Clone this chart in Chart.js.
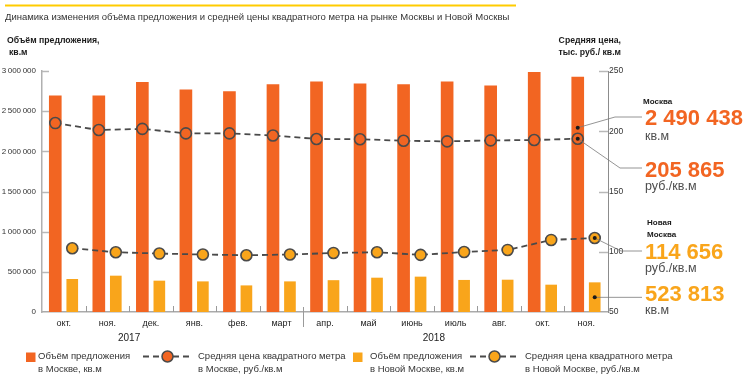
<!DOCTYPE html>
<html>
<head>
<meta charset="utf-8">
<script src="https://cdn.jsdelivr.net/npm/chart.js@4"></script>
<style>
  html, body { margin: 0; padding: 0; background: #fff; }
  canvas { display: block; }
</style>
</head>
<body>
<canvas id="chart" width="749" height="379"></canvas>
<script>
const months = ['окт.', 'ноя.', 'дек.', 'янв.', 'фев.', 'март', 'апр.', 'май', 'июнь', 'июль', 'авг.', 'окт.', 'ноя.'];
const years = ['2017', '2018'];
const yearCenters = [1.5, 8.5];   // category position under which the year sits
const yearBreak = 5.5;            // between март and апр.

const moscowVolume = [2690000, 2690000, 2860000, 2765000, 2745000, 2830000, 2865000, 2840000, 2830000, 2865000, 2815000, 2985000, 2925000];
const newMoscowVolume = [407000, 448000, 386000, 377000, 327000, 377000, 392000, 423000, 436000, 395000, 398000, 336000, 365000];
const moscowPrice = [206.8, 201, 202, 198.2, 198.2, 196.5, 193.6, 193.4, 192.1, 191.6, 192.4, 192.7, 193.8];
const newMoscowPrice = [102.9, 99.6, 98.5, 97.7, 97.1, 97.7, 99, 99.6, 97.4, 99.8, 101.5, 109.8, 111.4];

const volumeTicks = [0, 500000, 1000000, 1500000, 2000000, 2500000, 3000000];
const priceTicks = [50, 100, 150, 200, 250];

const callouts = {
  moscowVolume: '2 490 438',
  moscowPrice: '205 865',
  newMoscowPrice: '114 656',
  newMoscowVolume: '523 813'
};

const title = 'Динамика изменения объёма предложения и средней цены квадратного метра на рынке Москвы и Новой Москвы';

const ORANGE = '#f26522';
const YELLOW = '#f9a51b';
const DARK = '#4a4a4a';
const SANS = '"Liberation Sans", Arial, sans-serif';

// each month: Moscow bar/point left of centre, New Moscow right of it
const shift = 0.195;

const fmt = v => String(v).replace(/\B(?=(\d{3})+(?!\d))/g, '\u2009');

function seg(ctx, pts) {
  ctx.beginPath();
  ctx.moveTo(pts[0][0], pts[0][1]);
  for (let i = 1; i < pts.length; i++) ctx.lineTo(pts[i][0], pts[i][1]);
  ctx.stroke();
}
function dot(ctx, x, y) {
  ctx.beginPath();
  ctx.arc(x, y, 2, 0, Math.PI * 2);
  ctx.fillStyle = '#1a1a1a';
  ctx.fill();
}

const deco = {
  id: 'deco',
  afterDraw(chart) {
    const { ctx, chartArea: a, scales: { x, y, y1 } } = chart;
    ctx.save();

    // top rule + title
    ctx.strokeStyle = '#ffcc00';
    ctx.lineWidth = 2;
    seg(ctx, [[5, 5.5], [516, 5.5]]);
    ctx.textBaseline = 'middle';
    ctx.fillStyle = '#333';
    ctx.font = '9.5px ' + SANS;
    ctx.textAlign = 'left';
    ctx.fillText(title, 5, 17);

    // axis titles
    ctx.fillStyle = '#1a1a1a';
    ctx.font = 'bold 8.7px ' + SANS;
    ctx.fillText('Объём предложения,', 7, 41);
    ctx.fillText('кв.м', 9, 53);
    ctx.textAlign = 'right';
    ctx.fillText('Средняя цена,', 621, 41);
    ctx.fillText('тыс. руб./ кв.м', 621, 53);

    // inward tick marks
    ctx.strokeStyle = '#b8b8b8';
    ctx.lineWidth = 1.5;
    volumeTicks.forEach(v => {
      const py = Math.round(y.getPixelForValue(v)) + 0.5;
      if (v > 0) seg(ctx, [[a.left, py], [a.left + 7, py]]);
    });
    priceTicks.forEach(v => {
      const py = Math.round(y1.getPixelForValue(v)) + 0.5;
      if (v > 50) seg(ctx, [[a.right - 9, py], [a.right, py]]);
    });

    // month separators
    ctx.strokeStyle = '#9a9a9a';
    ctx.lineWidth = 1;
    for (let k = 1; k < months.length; k++) {
      const px = Math.round(x.getPixelForValue(k - 0.5)) + 0.5;
      if (k - 0.5 === yearBreak) seg(ctx, [[px, a.bottom - 5], [px, a.bottom + 15]]);
      else seg(ctx, [[px, a.bottom - 6], [px, a.bottom]]);
    }

    // years
    ctx.fillStyle = '#222';
    ctx.font = '10px ' + SANS;
    ctx.textAlign = 'center';
    years.forEach((t, i) => ctx.fillText(t, x.getPixelForValue(yearCenters[i]), 338));

    // callouts for the last month
    const last = months.length - 1;
    const mBar = chart.getDatasetMeta(0).data[last];
    const nBar = chart.getDatasetMeta(1).data[last];
    const mPt = chart.getDatasetMeta(2).data[last];
    const nPt = chart.getDatasetMeta(3).data[last];
    const tx = a.right + 37;
    const ex = a.right + 34;
    const vy = (nBar.y + nBar.base) / 2;
    ctx.strokeStyle = '#7a7a7a';
    ctx.lineWidth = 0.8;
    seg(ctx, [[mBar.x, mPt.y - 11], [a.right + 7, 117], [ex, 117]]);
    seg(ctx, [[mPt.x, mPt.y], [a.right + 12, 168], [ex, 168]]);
    seg(ctx, [[nPt.x, nPt.y], [a.right + 13, 251], [ex, 251]]);
    seg(ctx, [[nBar.x, vy], [ex, vy]]);
    dot(ctx, mBar.x, mPt.y - 11);
    dot(ctx, mPt.x, mPt.y);
    dot(ctx, nPt.x, nPt.y);
    dot(ctx, nBar.x, vy);

    ctx.textAlign = 'left';
    ctx.fillStyle = '#1a1a1a';
    ctx.font = 'bold 8px ' + SANS;
    ctx.fillText('Москва', a.right + 35, 101.5);
    ctx.fillText('Новая', a.right + 39, 223);
    ctx.fillText('Москва', a.right + 39, 235);

    ctx.font = 'bold 22px ' + SANS;
    ctx.fillStyle = ORANGE;
    ctx.fillText(callouts.moscowVolume, tx, 119);
    ctx.fillText(callouts.moscowPrice, tx, 171);
    ctx.fillStyle = YELLOW;
    ctx.fillText(callouts.newMoscowPrice, tx, 253);
    ctx.fillText(callouts.newMoscowVolume, tx, 295);

    ctx.font = '12.5px ' + SANS;
    ctx.fillStyle = '#4d4d4d';
    ctx.fillText('кв.м', tx, 137);
    ctx.fillText('руб./кв.м', tx, 187);
    ctx.fillText('руб./кв.м', tx, 269);
    ctx.fillText('кв.м', tx, 311);

    // legend
    const items = [
      { ds: 0, kind: 'bar', x: 26, tx: 38 },
      { ds: 2, kind: 'line', x: 143, x1: 192, tx: 198 },
      { ds: 1, kind: 'bar', x: 353, tx: 370 },
      { ds: 3, kind: 'line', x: 470, x1: 519, tx: 525 }
    ];
    items.forEach(it => {
      const d = chart.data.datasets[it.ds];
      if (it.kind === 'bar') {
        ctx.fillStyle = d.backgroundColor;
        ctx.fillRect(it.x, 352.5, 9.5, 9.5);
      } else {
        ctx.strokeStyle = DARK;
        ctx.lineWidth = 2;
        ctx.setLineDash([6, 4]);
        seg(ctx, [[it.x, 356.5], [it.x1, 356.5]]);
        ctx.setLineDash([]);
        ctx.beginPath();
        ctx.arc((it.x + it.x1) / 2, 356.5, 5.5, 0, Math.PI * 2);
        ctx.fillStyle = d.pointBackgroundColor;
        ctx.fill();
        ctx.lineWidth = 1.5;
        ctx.stroke();
      }
      ctx.fillStyle = '#333';
      ctx.font = '9.5px ' + SANS;
      ctx.textAlign = 'left';
      d.label.split('\n').forEach((t, i) => ctx.fillText(t, it.tx, 356 + i * 13));
    });

    ctx.restore();
  }
};

const lineStyle = {
  type: 'line',
  yAxisID: 'y1',
  borderColor: DARK,
  borderWidth: 1.8,
  borderDash: [6, 4],
  pointRadius: 5.5,
  pointBorderWidth: 1.6,
  pointBorderColor: DARK,
  fill: false,
  tension: 0,
  order: 1
};

new Chart(document.getElementById('chart'), {
  type: 'bar',
  data: {
    datasets: [
      {
        label: 'Объём предложения\nв Москве, кв.м',
        data: moscowVolume.map((v, i) => ({ x: i - shift, y: v })),
        backgroundColor: ORANGE,
        yAxisID: 'y',
        grouped: false,
        barThickness: 12,
        order: 2
      },
      {
        label: 'Объём предложения\nв Новой Москве, кв.м',
        data: newMoscowVolume.map((v, i) => ({ x: i + shift, y: v })),
        backgroundColor: YELLOW,
        yAxisID: 'y',
        grouped: false,
        barThickness: 11,
        order: 2
      },
      Object.assign({}, lineStyle, {
        label: 'Средняя цена квадратного метра\nв Москве, руб./кв.м',
        data: moscowPrice.map((v, i) => ({ x: i - shift, y: v })),
        pointBackgroundColor: ORANGE
      }),
      Object.assign({}, lineStyle, {
        label: 'Средняя цена квадратного метра\nв Новой Москве, руб./кв.м',
        data: newMoscowPrice.map((v, i) => ({ x: i + shift, y: v })),
        pointBackgroundColor: YELLOW
      })
    ]
  },
  options: {
    responsive: false,
    animation: false,
    events: [],
    layout: { padding: { top: 71, left: 0, right: 0, bottom: 0 } },
    plugins: { legend: { display: false }, tooltip: { enabled: false } },
    scales: {
      x: {
        type: 'linear',
        min: -0.5,
        max: 12.5,
        offset: false,
        grid: { display: false, drawTicks: false, offset: false },
        border: { display: true, color: '#aaa', width: 1.5 },
        afterBuildTicks: s => { s.ticks = months.map((m, i) => ({ value: i })); },
        ticks: {
          color: '#222', font: { family: SANS, size: 9 }, padding: 6, maxRotation: 0, autoSkip: false,
          callback: v => months[v]
        },
        afterFit: s => { s.height = 67; }
      },
      y: {
        position: 'left',
        min: 0,
        max: 3000000,
        grid: { display: false, drawTicks: false },
        border: { display: true, color: '#b0b0b0', width: 1.5 },
        ticks: { stepSize: 500000, color: '#333', font: { family: SANS, size: 8 }, padding: 6, callback: v => fmt(v) },
        afterFit: s => { s.width = 42; }
      },
      y1: {
        position: 'right',
        min: 50,
        max: 250,
        grid: { display: false, drawTicks: false },
        border: { display: true, color: '#8c8c8c', width: 1 },
        ticks: { stepSize: 50, color: '#333', font: { family: SANS, size: 8.5 }, padding: 1 },
        afterFit: s => { s.width = 141; }
      }
    }
  },
  plugins: [deco]
});
</script>
</body>
</html>
